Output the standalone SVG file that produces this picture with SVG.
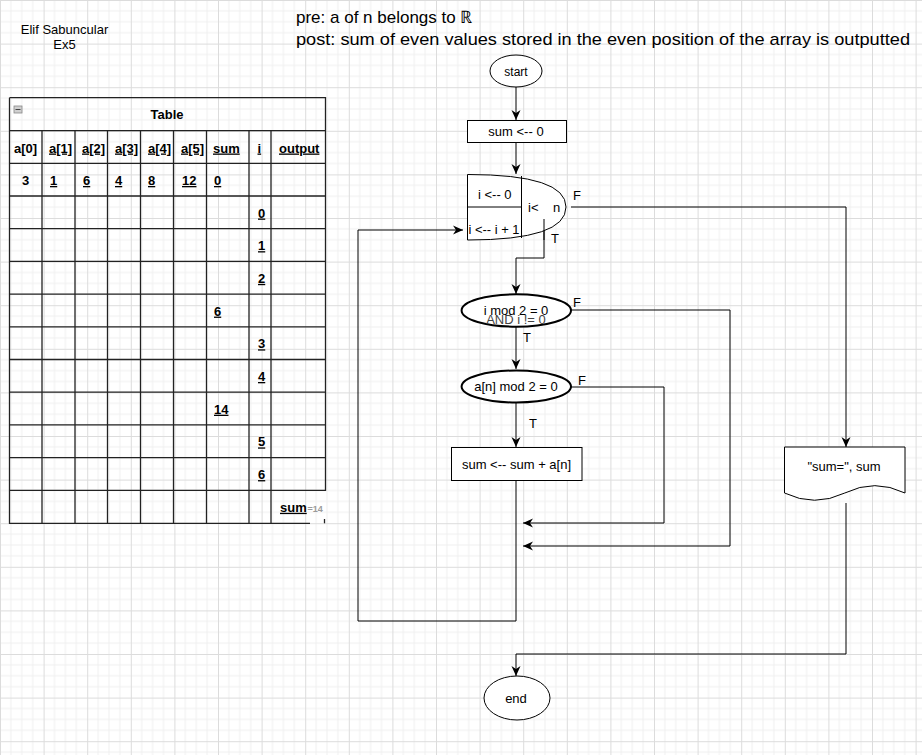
<svg xmlns="http://www.w3.org/2000/svg" width="922" height="755" viewBox="0 0 922 755">
<defs>
<pattern id="grid" width="43.6" height="43.6" patternUnits="userSpaceOnUse">
<path d="M10.9,0V43.6M21.8,0V43.6M32.7,0V43.6M0,10.9H43.6M0,21.8H43.6M0,32.7H43.6" stroke="#efefef" stroke-width="1" fill="none"/>
<path d="M0.5,0V43.6M0,0.5H43.6" stroke="#dcdcdc" stroke-width="1" fill="none"/>
</pattern>
<marker id="arr" viewBox="0 0 10 10" refX="10" refY="5" markerWidth="10" markerHeight="10" markerUnits="userSpaceOnUse" orient="auto">
<path d="M0,0.5 L10,5 L0,9.5 L3,5 Z" fill="#000"/>
</marker>
<style>
text{font-family:"Liberation Sans",Arial,sans-serif;fill:#000}
.n{font-size:13px}
.c{text-anchor:middle}
.tb{font-size:13px;font-weight:bold}
.u{text-decoration:underline}
.ln{fill:none;stroke:#000;stroke-width:1}
.tl{stroke:#222;stroke-width:1.3;fill:none}
.node{fill:#fff;stroke:#000;stroke-width:1}
.dec{fill:#fff;stroke:#000;stroke-width:2}
.con{fill:none;stroke:#000;stroke-width:1;marker-end:url(#arr)}
</style>
</defs>
<rect width="922" height="755" fill="#fff"/>
<rect width="922" height="755" fill="url(#grid)"/>

<g id="author">
<text class="n c" x="64.5" y="34">Elif Sabuncular</text>
<text class="n c" x="64.5" y="49">Ex5</text>
</g>
<g id="conditions">
<text x="296" y="23" style="font-size:17px">pre: a of n belongs to ℝ</text>
<text x="296" y="45" style="font-size:17px" textLength="614" lengthAdjust="spacingAndGlyphs">post: sum of even values stored in the even position of the array is outputted</text>
</g>

<g id="table">
<rect x="14" y="106" width="8" height="7" fill="#d0d0d0" stroke="#888" stroke-width="0.8"/>
<line x1="15.5" y1="109.5" x2="20.5" y2="109.5" stroke="#444" stroke-width="1"/>
<text class="tb c" x="167" y="119">Table</text>
<path class="tl" d="M9.5,97.7H325.5V491M9.5,97.7V523.3H310M9.5,130.7H325.5"/>
<path class="tl" d="M324.5,519V523.3"/>
<path class="tl" d="M9.5,163.3H325.5M9.5,196H325.5M9.5,228.7H325.5M9.5,261.4H325.5M9.5,294.1H325.5M9.5,326.8H325.5M9.5,359.5H325.5M9.5,392.2H325.5M9.5,424.9H325.5M9.5,457.6H325.5M9.5,490.3H325.5"/>
<path class="tl" d="M42,130.7V523.3M75,130.7V523.3M107.5,130.7V523.3M140.5,130.7V523.3M173.5,130.7V523.3M206.5,130.7V523.3M249,130.7V523.3M271,130.7V523.3"/>
<text class="tb c" x="25.5" y="152.5">a[0]</text>
<text class="tb u" x="49" y="152.5">a[1]</text>
<text class="tb u" x="82" y="152.5">a[2]</text>
<text class="tb u" x="115" y="152.5">a[3]</text>
<text class="tb u" x="148" y="152.5">a[4]</text>
<text class="tb u" x="181" y="152.5">a[5]</text>
<text class="tb u" x="213" y="152.5">sum</text>
<text class="tb u" x="257.5" y="152.5">i</text>
<text class="tb u" x="279" y="152.5">output</text>
<text class="tb c" x="25.5" y="185">3</text>
<text class="tb u" x="50" y="185">1</text>
<text class="tb u" x="83" y="185">6</text>
<text class="tb u" x="115" y="185">4</text>
<text class="tb u" x="148" y="185">8</text>
<text class="tb u" x="182" y="185">12</text>
<text class="tb u" x="214" y="185">0</text>
<text class="tb u" x="258" y="217.5">0</text>
<text class="tb u" x="258" y="250.2">1</text>
<text class="tb u" x="258" y="282.9">2</text>
<text class="tb u" x="214" y="315.6">6</text>
<text class="tb u" x="258" y="348.3">3</text>
<text class="tb u" x="258" y="381">4</text>
<text class="tb u" x="214" y="413.7">14</text>
<text class="tb u" x="258" y="446.4">5</text>
<text class="tb u" x="258" y="479.1">6</text>
<text class="tb u" x="280" y="511.8">sum</text>
<text x="307.5" y="511.8" style="font-size:9px;font-weight:bold;fill:#9a9a9a">=14</text>
</g>

<g id="connectors">
<path class="con" d="M516,87V120"/>
<path class="con" d="M516,142V174"/>
<path class="con" d="M544,219V258H516V294"/>
<path class="con" d="M571,207H846V447"/>
<path class="con" d="M516,327V369"/>
<path class="con" d="M571,310H730V546H523"/>
<path class="con" d="M516,402V447"/>
<path class="con" d="M571,387H664V523H523"/>
<path class="con" d="M516,480V621H358V230H463"/>
<path class="con" d="M846,503V654H516V676"/>
</g>

<g id="start">
<ellipse class="node" cx="516" cy="71" rx="26" ry="16"/>
<text class="n c" x="516" y="75.5" style="font-size:12px">start</text>
</g>
<g id="init">
<rect class="node" x="467.5" y="120.5" width="99" height="22"/>
<text class="n c" x="516" y="136">sum &lt;-- 0</text>
</g>
<g id="loop">
<path class="node" d="M467.5,174.5 Q566,174.5 566,207 Q566,240 467.5,240 Z"/>
<path class="ln" d="M521.5,176V238M467.5,207H521.5"/>
<path class="ln" d="M544,219V240"/>
<text class="n" x="478" y="199">i &lt;-- 0</text>
<text class="n" x="468.5" y="234" textLength="51" lengthAdjust="spacingAndGlyphs">i &lt;-- i + 1</text>
<text class="n" x="528" y="212">i&lt;</text>
<text class="n" x="553" y="212">n</text>
</g>
<g id="dec1">
<ellipse class="dec" cx="516.3" cy="310.5" rx="54.7" ry="16.2"/>
<text class="n c" x="516" y="314.5">i mod 2 = 0</text>
<text class="n c" x="516" y="324" style="fill:#444">AND i != 0</text>
</g>
<g id="dec2">
<ellipse class="dec" cx="516.3" cy="386.5" rx="54.7" ry="16"/>
<text class="n c" x="516" y="391">a[n] mod 2 = 0</text>
</g>
<g id="add">
<rect class="node" x="451.5" y="447.5" width="130.5" height="33"/>
<text class="n c" x="516.5" y="468.5">sum &lt;-- sum + a[n]</text>
</g>
<g id="output">
<path class="node" d="M784.5,447 H905 V493 Q874.8,478.3 844.8,493 Q814.5,507.5 784.5,493 Z"/>
<text class="n c" x="844" y="470.5">"sum=", sum</text>
</g>
<g id="end">
<ellipse class="node" cx="517" cy="698" rx="33" ry="22"/>
<text class="n c" x="516" y="702.5">end</text>
</g>

<g id="labels">
<text class="n" x="573" y="200">F</text>
<text class="n" x="551" y="243">T</text>
<text class="n" x="573" y="307">F</text>
<text class="n" x="523" y="342">T</text>
<text class="n" x="578" y="385">F</text>
<text class="n" x="529" y="428">T</text>
</g>
</svg>
